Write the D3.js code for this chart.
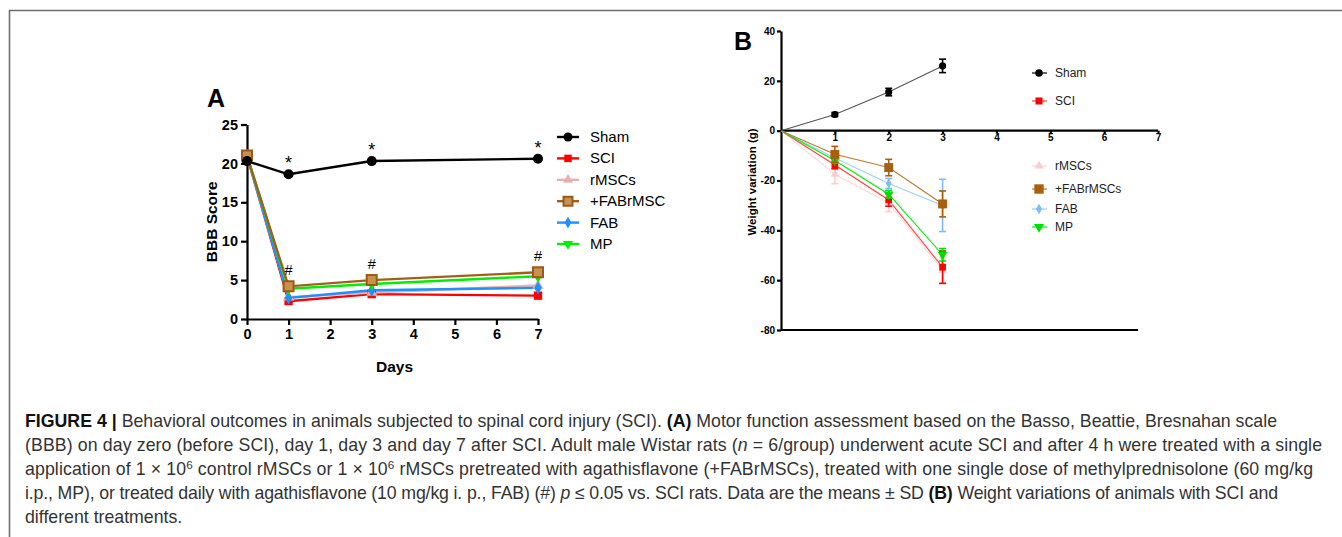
<!DOCTYPE html>
<html><head><meta charset="utf-8">
<script src="https://cdn.jsdelivr.net/npm/d3@7"></script>
<style>
html,body{margin:0;padding:0;background:#fff;}
svg{display:block;font-family:"Liberation Sans",Arial,sans-serif;}
</style></head>
<body>
<svg id="c" width="1342" height="537"></svg>
<script>
// ---------- Data: Panel A (BBB score) ----------
const daysA = [0, 1, 3, 7];
const xTicksA = [0, 1, 2, 3, 4, 5, 6, 7];
const yTicksA = [0, 5, 10, 15, 20, 25];
const seriesNamesA = ["Sham", "SCI", "rMSCs", "+FABrMSC", "FAB", "MP"];
const shamA   = [20.3, 18.6, 20.3, 20.6];
const sciA    = [21.0, 2.3, 3.2, 3.0];
const rmscA   = [21.0, 2.8, 3.4, 4.3];
const fabrA   = [21.0, 4.2, 5.0, 6.0];
const fabA    = [21.0, 2.7, 3.7, 4.0];
const mpA     = [21.0, 3.9, 4.5, 5.5];
const starDays = [1, 3, 7];
const hashDays = [1, 3, 7];

// ---------- Data: Panel B (weight variation) ----------
const daysB = [0, 1, 2, 3];
const xTicksB = [1, 2, 3, 4, 5, 6, 7];
const yTicksB = [40, 20, 0, -20, -40, -60, -80];
const seriesNamesB = ["Sham", "SCI", "rMSCs", "+FABrMSCs", "FAB", "MP"];
const shamB    = [0, 6.5, 15.5, 26.0];
const shamBsd  = [0, 0.8, 1.5, 2.7];
const sciB     = [0, -13.8, -27.8, -54.8];
const sciBsd   = [0, 1.5, 2.5, 6.5];
const rmscB    = [0, -17.5, -29.0, -56.0];
const rmscBsd  = [0, 3.8, 3.5, 5.0];
const fabrB    = [0, -9.5, -14.8, -29.4];
const fabrBsd  = [0, 3.2, 3.3, 5.2];
const fabB     = [0, -11.0, -21.2, -30.0];
const fabBsd   = [0, 1.5, 2.0, 10.5];
const mpB      = [0, -12.0, -25.5, -49.8];
const mpBsd    = [0, 1.0, 1.5, 2.5];

const svg = d3.select("#c");

// frame
svg.append("path").attr("d", "M9.5,537 L9.5,10.5 L1342,10.5")
  .attr("fill","none").attr("stroke","#6e6e6e").attr("stroke-width",1.6);

// ================= Panel A =================
const xA = d3.scaleLinear().domain([0,7]).range([247,538]);
const yA = d3.scaleLinear().domain([0,25]).range([319,124.5]);
const gA = svg.append("g");

const axYA = gA.append("g").attr("transform",`translate(${xA(0)},0)`)
  .call(d3.axisLeft(yA).tickValues(yTicksA).tickSize(6).tickSizeOuter(0).tickPadding(3).tickFormat(d=>String(d)));
const axXA = gA.append("g").attr("transform",`translate(0,${yA(0)})`)
  .call(d3.axisBottom(xA).tickValues(xTicksA).tickSize(6).tickSizeOuter(0).tickPadding(4).tickFormat(d=>String(d)));
[axYA, axXA].forEach(a=>{
  a.attr("font-size",null).attr("font-family",null);
  a.selectAll("path,line").attr("stroke","#000").attr("stroke-width",2.2);
  a.selectAll("text").style("font-size","14.5px").style("font-weight","bold").attr("fill","#000");
});

gA.append("text").attr("x",216).attr("y",107).attr("text-anchor","middle")
  .attr("font-size",25).attr("font-weight","bold").text("A");
gA.append("text").attr("transform",`translate(217,${(yA(0)+yA(25))/2}) rotate(-90)`)
  .attr("text-anchor","middle").attr("font-size",15.5).attr("font-weight","bold").text("BBB Score");
gA.append("text").attr("x",(xA(0)+xA(7))/2+2).attr("y",372).attr("text-anchor","middle")
  .attr("font-size",15.5).attr("font-weight","bold").text("Days");

const stylesA = {
  "Sham":     {vals: shamA, color:"#000000", sym:d3.symbolCircle, size:80, fill:"#000", stroke:null},
  "SCI":      {vals: sciA,  color:"#ff0000", sym:d3.symbolSquare, size:70, fill:"#ff0000", stroke:null},
  "rMSCs":    {vals: rmscA, color:"#e8b0b0", sym:d3.symbolTriangle, size:55, fill:"#e8b0b0", stroke:null},
  "+FABrMSC": {vals: fabrA, color:"#a0601c", sym:d3.symbolSquare, size:100, fill:"#c8924e", stroke:"#9a5a18"},
  "FAB":      {vals: fabA,  color:"#1e90ff", sym:d3.symbolDiamond, size:50, fill:"#1e90ff", stroke:null},
  "MP":       {vals: mpA,   color:"#00ee00", sym:d3.symbolTriangle, size:55, fill:"#00ee00", stroke:null, rot:180}
};
const drawOrderA = ["SCI","rMSCs","FAB","MP","+FABrMSC","Sham"];
const lineA = d3.line().x((d,i)=>xA(daysA[i])).y(d=>yA(d));
drawOrderA.forEach(name=>{
  const s = stylesA[name];
  gA.append("path").datum(s.vals).attr("d",lineA).attr("fill","none")
    .attr("stroke",s.color).attr("stroke-width",2.4);
});
drawOrderA.forEach(name=>{
  const s = stylesA[name];
  gA.selectAll(null).data(s.vals).enter().append("path")
    .attr("d", d3.symbol().type(s.sym).size(s.size))
    .attr("transform",(d,i)=>`translate(${xA(daysA[i])},${yA(d)})${s.rot?` rotate(${s.rot})`:""}`)
    .attr("fill",s.fill).attr("stroke",s.stroke||"none").attr("stroke-width",s.stroke?2:0);
});
// significance marks
gA.selectAll(null).data(starDays).enter().append("text")
  .attr("x",d=>xA(d)).attr("y",d=>yA(shamA[daysA.indexOf(d)])-5)
  .attr("text-anchor","middle").attr("font-size",18).text("*");
gA.selectAll(null).data(hashDays).enter().append("text")
  .attr("x",d=>xA(d)).attr("y",d=>yA(fabrA[daysA.indexOf(d)])-11)
  .attr("text-anchor","middle").attr("font-size",14.5).text("#");

// legend A
const legA = gA.append("g");
seriesNamesA.forEach((name,i)=>{
  const s = stylesA[name];
  const y = 137 + i*21.4;
  legA.append("line").attr("x1",557).attr("x2",579).attr("y1",y).attr("y2",y)
    .attr("stroke",s.color).attr("stroke-width",2.4);
  legA.append("path").attr("d", d3.symbol().type(s.sym).size(s.size*0.8))
    .attr("transform",`translate(568,${y})${s.rot?" rotate(180)":""}`)
    .attr("fill",s.fill).attr("stroke",s.stroke||"none").attr("stroke-width",s.stroke?2:0);
  legA.append("text").attr("x",590).attr("y",y+5).attr("font-size",15).text(name);
});

// ================= Panel B =================
const xB = d3.scaleLinear().domain([0,7]).range([781,1158]);
const yB = d3.scaleLinear().domain([-80,40]).range([330,31]);
const gB = svg.append("g");

const axYB = gB.append("g").attr("transform",`translate(${xB(0)},0)`)
  .call(d3.axisLeft(yB).tickValues(yTicksB).tickSize(4).tickSizeOuter(0).tickPadding(2).tickFormat(d=>String(d)));
const axXB = gB.append("g").attr("transform",`translate(0,${yB(0)})`)
  .call(d3.axisBottom(xB).tickValues(xTicksB).tickSize(3).tickSizeOuter(0).tickPadding(0).tickFormat(d=>String(d)));
[axYB, axXB].forEach(a=>{
  a.attr("font-size",null).attr("font-family",null);
  a.selectAll("path,line").attr("stroke","#000").attr("stroke-width",2.2);
  a.selectAll("text").style("font-size","10px").style("font-weight","bold").attr("fill","#000");
});
axXB.select(".domain").attr("d",`M${xB(0)},0H${xB(7)}`);
// bottom frame line
gB.append("line").attr("x1",xB(0)).attr("x2",xB(6.63)).attr("y1",yB(-80)).attr("y2",yB(-80))
  .attr("stroke","#000").attr("stroke-width",2.2);

gB.append("text").attr("x",743).attr("y",50).attr("text-anchor","middle")
  .attr("font-size",25).attr("font-weight","bold").text("B");
gB.append("text").attr("transform",`translate(756,182) rotate(-90)`)
  .attr("text-anchor","middle").attr("font-size",11.5).attr("font-weight","bold").text("Weight variation (g)");

const stylesB = {
  "Sham":      {vals: shamB, sd: shamBsd, color:"#555555", mk:"#000", sym:d3.symbolCircle, size:40},
  "SCI":       {vals: sciB,  sd: sciBsd,  color:"#ff4040", mk:"#ff0000", sym:d3.symbolSquare, size:45},
  "rMSCs":     {vals: rmscB, sd: rmscBsd, color:"#ffd6d6", mk:"#ffcccc", sym:d3.symbolTriangle, size:32},
  "+FABrMSCs": {vals: fabrB, sd: fabrBsd, color:"#b87a30", mk:"#a8600e", sym:d3.symbolSquare, size:80},
  "FAB":       {vals: fabB,  sd: fabBsd,  color:"#9ecdf5", mk:"#7fbcf2", sym:d3.symbolDiamond, size:30},
  "MP":        {vals: mpB,   sd: mpBsd,   color:"#00ee00", mk:"#00dd00", sym:d3.symbolTriangle, size:40, rot:180}
};
const drawOrderB = ["rMSCs","SCI","FAB","MP","+FABrMSCs","Sham"];
const lineB = d3.line().x((d,i)=>xB(daysB[i])).y(d=>yB(d));
drawOrderB.forEach(name=>{
  const s = stylesB[name];
  gB.append("path").datum(s.vals).attr("d",lineB).attr("fill","none")
    .attr("stroke",s.color).attr("stroke-width",1.1);
});
drawOrderB.forEach(name=>{
  const s = stylesB[name];
  const pts = s.vals.map((v,i)=>({x:daysB[i],v, sd:s.sd[i]})).filter(p=>p.x>0);
  const eb = gB.append("g").attr("stroke",s.mk).attr("stroke-width",1.6);
  pts.forEach(p=>{
    eb.append("line").attr("x1",xB(p.x)).attr("x2",xB(p.x)).attr("y1",yB(p.v-p.sd)).attr("y2",yB(p.v+p.sd));
    [p.v-p.sd, p.v+p.sd].forEach(e=>{
      eb.append("line").attr("x1",xB(p.x)-3.5).attr("x2",xB(p.x)+3.5).attr("y1",yB(e)).attr("y2",yB(e));
    });
  });
  gB.selectAll(null).data(pts).enter().append("path")
    .attr("d", d3.symbol().type(s.sym).size(s.size))
    .attr("transform",p=>`translate(${xB(p.x)},${yB(p.v)})${s.rot?" rotate(180)":""}`)
    .attr("fill",s.mk);
});

// legend B
const legYB = [73, 101, 166, 189, 209, 227];
seriesNamesB.forEach((name,i)=>{
  const s = stylesB[name];
  const y = legYB[i];
  gB.append("line").attr("x1",1032).attr("x2",1047).attr("y1",y).attr("y2",y)
    .attr("stroke",s.color==="#555555"?"#000":s.color).attr("stroke-width",1.2);
  gB.append("path").attr("d", d3.symbol().type(s.sym).size(s.size*1.1))
    .attr("transform",`translate(1039,${y})${s.rot?" rotate(180)":""}`)
    .attr("fill",s.mk);
  gB.append("text").attr("x",1055).attr("y",y+4).attr("font-size",12).attr("fill","#222").text(name);
});

// ================= Caption =================
const capLines = [
  [["b","FIGURE 4 | "],["n","Behavioral outcomes in animals subjected to spinal cord injury (SCI). "],["b","(A)"],["n"," Motor function assessment based on the Basso, Beattie, Bresnahan scale"]],
  [["n","(BBB) on day zero (before SCI), day 1, day 3 and day 7 after SCI. Adult male Wistar rats ("],["i","n"],["n"," = 6/group) underwent acute SCI and after 4 h were treated with a single"]],
  [["n","application of 1 × 10"],["s","6"],["n"," control rMSCs or 1 × 10"],["s","6"],["n"," rMSCs pretreated with agathisflavone (+FABrMSCs), treated with one single dose of methylprednisolone (60 mg/kg"]],
  [["n","i.p., MP), or treated daily with agathisflavone (10 mg/kg i. p., FAB) (#) "],["i","p"],["n"," ≤ 0.05 vs. SCI rats. Data are the means ± SD "],["b","(B)"],["n"," Weight variations of animals with SCI and"]],
  [["n","different treatments."]]
];
const capTargets = [1277, 1322, 1313, 1278, null];
const capG = svg.append("g").attr("fill","#333");
const capTexts = capLines.map((parts,li)=>{
  const t = capG.append("text").attr("x",25).attr("y",427 + li*24).attr("font-size",15);
  let prevSup = false;
  parts.forEach(([k,str])=>{
    const ts = t.append("tspan").text(str);
    if(k==="b") ts.attr("font-weight","bold").attr("fill","#111");
    if(k==="i") ts.attr("font-style","italic");
    if(k==="s") ts.attr("font-size",10).attr("dy",-6).attr("class","sup");
    if(k!=="s" && prevSup) ts.attr("dy",6);
    prevSup = (k==="s");
  });
  return t;
});
// fit the font so the first line spans the same width as the original
const w0 = capTexts[0].node().getComputedTextLength();
const fs = 15 * (capTargets[0]-25) / w0;
capTexts.forEach((t,li)=>{
  t.attr("font-size",fs);
  t.selectAll("tspan.sup").attr("font-size",fs*0.66);
  if(capTargets[li]){
    t.attr("textLength",capTargets[li]-25).attr("lengthAdjust","spacing");
  }
});
</script>
</body></html>
